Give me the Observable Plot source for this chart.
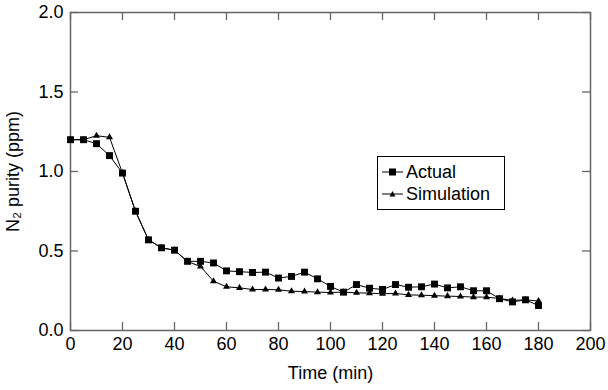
<!DOCTYPE html>
<html><head><meta charset="utf-8">
<script src="https://cdn.jsdelivr.net/npm/d3@7"></script>
<script src="https://cdn.jsdelivr.net/npm/@observablehq/plot@0.6"></script>
<style>
body{margin:0;background:#fff;font-family:"Liberation Sans",Arial,sans-serif}
#wrap{position:relative;width:608px;height:390px}
#chart svg text{font-size:18px;font-family:"Liberation Sans",Arial,sans-serif;fill:#000}
#legend{position:absolute;left:377px;top:156px;width:128px;height:54px;border:1px solid #000;box-sizing:border-box;background:#fff;font-size:18px;color:#000;padding-top:4px}
#legend .row{display:flex;align-items:center;height:22px}
#legend svg{margin-left:4px;margin-right:3px}
</style></head><body><div id="wrap"><div id="chart"></div><div id="legend"></div></div>
<script>
const times = [0,5,10,15,20,25,30,35,40,45,50,55,60,65,70,75,80,85,90,95,100,105,110,115,120,125,130,135,140,145,150,155,160,165,170,175,180];
const actual = [1.20,1.20,1.175,1.10,0.99,0.75,0.57,0.52,0.505,0.435,0.435,0.425,0.375,0.37,0.365,0.367,0.33,0.34,0.367,0.325,0.277,0.241,0.289,0.266,0.258,0.289,0.272,0.275,0.292,0.268,0.275,0.25,0.25,0.20,0.18,0.193,0.157];
const simulation = [1.20,1.20,1.225,1.215,0.99,0.75,0.57,0.52,0.505,0.434,0.403,0.31,0.275,0.268,0.258,0.258,0.256,0.247,0.245,0.241,0.239,0.241,0.237,0.235,0.231,0.233,0.224,0.222,0.219,0.216,0.214,0.21,0.21,0.201,0.189,0.193,0.185];
const xTicks = [0,20,40,60,80,100,120,140,160,180,200];
const yTicks = [0,0.5,1.0,1.5,2.0];
const seriesNames = ["Actual","Simulation"];

const actualData = times.map((t,i)=>({t, v: actual[i]}));
const simData = times.map((t,i)=>({t, v: simulation[i]}));

const W = 608, H = 390, mL = 70, mR = 18, mT = 12, mB = 60;
const innerH = H - mT - mB, innerW = W - mL - mR, tick = 8, axisColor = "#666";

const chart = Plot.plot({
  width: W, height: H,
  marginLeft: mL, marginRight: mR, marginTop: mT, marginBottom: mB,
  style: {fontFamily: '"Liberation Sans", Arial, sans-serif', fontSize: "18px", color: "#000", background: "#fff"},
  x: {domain: [0,200]},
  y: {domain: [0,2]},
  marks: [
    Plot.axisX({ticks: xTicks, tickSize: 0, tickPadding: 7, label: "Time (min)", labelAnchor: "center", labelArrow: "none", labelOffset: 48}),
    Plot.axisY({ticks: yTicks, tickSize: 0, tickPadding: 7, tickFormat: d3.format(".1f"), label: "N₂ purity (ppm)", labelAnchor: "center", labelArrow: "none", labelOffset: 64}),
    Plot.ruleX(xTicks, {x: d=>d, insetTop: innerH - tick, stroke: axisColor, strokeWidth: 1.3}),
    Plot.ruleX(xTicks, {x: d=>d, insetBottom: innerH - tick, stroke: axisColor, strokeWidth: 1.3}),
    Plot.ruleY(yTicks, {y: d=>d, insetRight: innerW - tick, stroke: axisColor, strokeWidth: 1.3}),
    Plot.ruleY(yTicks, {y: d=>d, insetLeft: innerW - tick, stroke: axisColor, strokeWidth: 1.3}),
    Plot.frame({stroke: axisColor, strokeWidth: 1.5}),
    Plot.line(simData, {x: "t", y: "v", stroke: "#000", strokeWidth: 1}),
    Plot.dot(simData, {x: "t", y: "v", symbol: "triangle", r: 2.6, fill: "#000", stroke: "none"}),
    Plot.line(actualData, {x: "t", y: "v", stroke: "#000", strokeWidth: 1}),
    Plot.dot(actualData, {x: "t", y: "v", symbol: "square", r: 3.9, fill: "#000", stroke: "none"})
  ]
});
document.getElementById("chart").appendChild(chart);

const legend = document.getElementById("legend");
const syms = {Actual: '<rect x="7" y="2.5" width="7" height="7" fill="#000"/>', Simulation: '<path d="M10.5 3 L13.5 8.5 L7.5 8.5 Z" fill="#000"/>'};
seriesNames.forEach(name => {
  const row = document.createElement("div");
  row.className = "row";
  row.innerHTML = `<svg width="21" height="12"><line x1="0" y1="6" x2="21" y2="6" stroke="#000" stroke-width="1"/>${syms[name]}</svg><span>${name}</span>`;
  legend.appendChild(row);
});
</script>
</body></html>
